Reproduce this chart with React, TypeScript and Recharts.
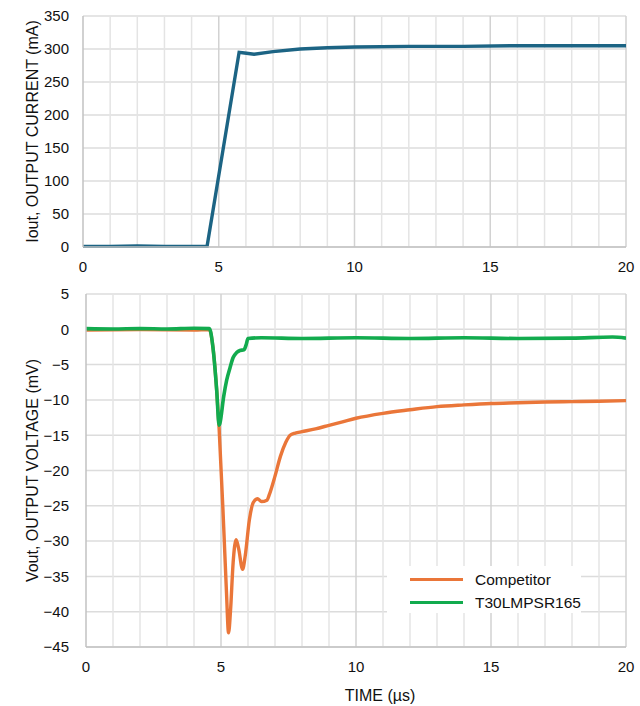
import React from 'react';
import { LineChart, Line, XAxis, YAxis, CartesianGrid, ReferenceLine, Legend } from 'recharts';

// time axis (µs)
const TIME_TICKS = [0, 5, 10, 15, 20];
const MINOR_X = [1, 2, 3, 4, 6, 7, 8, 9, 11, 12, 13, 14, 16, 17, 18, 19];
const MAJOR_X = [5, 10, 15, 20];

// top panel: output current step
const IOUT_TICKS = [0, 50, 100, 150, 200, 250, 300, 350];
const IOUT_T = [0, 1, 2, 3, 4, 4.57, 5.75, 5.95, 6.3, 7, 8, 9, 10, 12, 14, 16, 18, 20];
const IOUT_MA = [1, 1, 1.5, 1, 1, 1, 295, 294, 292, 296, 300, 302, 303, 304, 304, 305, 305, 305];

// bottom panel: output voltage response
const VOUT_TICKS = [5, 0, -5, -10, -15, -20, -25, -30, -35, -40, -45];
const COMP_T = [0, 2, 4, 4.57, 4.7, 4.84, 4.93, 5.1, 5.2, 5.28, 5.35, 5.45, 5.56, 5.65, 5.8, 5.9, 6.05, 6.2, 6.35, 6.5, 6.7, 6.8, 7.0, 7.2, 7.4, 7.56, 7.75, 8.0, 8.5, 9.0, 9.5, 10, 11, 12, 13, 14, 15, 16, 17, 18, 19, 20];
const COMP_MV = [-0.1, -0.05, -0.1, -0.05, -2.5, -8.6, -14, -28, -37, -43, -40, -33, -29.8, -31, -34, -32, -27, -24.5, -24, -24.4, -24.2, -23.3, -20.8, -18, -16, -15, -14.7, -14.5, -14.1, -13.6, -13.1, -12.6, -11.9, -11.4, -10.95, -10.7, -10.5, -10.4, -10.3, -10.25, -10.2, -10.1];
const PSR_T = [0, 1, 2, 3, 4, 4.57, 4.7, 4.84, 4.93, 4.96, 5.1, 5.21, 5.33, 5.45, 5.58, 5.7, 5.85, 5.93, 6.0, 6.5, 8, 10, 12, 14, 16, 18, 19.5, 20];
const PSR_MV = [0.1, 0.05, 0.1, 0.05, 0.15, 0.1, -2.5, -8.6, -13.6, -13.3, -9.5, -7.2, -5.5, -4.0, -3.3, -3.0, -2.9, -2.2, -1.3, -1.2, -1.3, -1.2, -1.3, -1.2, -1.3, -1.25, -1.1, -1.25];

const SERIES_NAMES = ['Competitor', 'T30LMPSR165'];
const COLORS = ['#ea7639', '#12ab4e'];
const BLUE = '#1c6484';

const ioutData = IOUT_T.map((t, i) => ({ t, v: IOUT_MA[i] }));
const compData = COMP_T.map((t, i) => ({ t, v: COMP_MV[i] }));
const psrData = PSR_T.map((t, i) => ({ t, v: PSR_MV[i] }));

const FONT = '"Liberation Sans", Arial, sans-serif';
const tickStyle = { fill: '#111', fontSize: 15, fontFamily: FONT };
const titleStyle = { fill: '#111', fontSize: 16, fontFamily: FONT };
const AXIS_GRAY = '#c2c2c2';
const fmtMinus = (v: number) => String(v).replace('-', '\u2212');

const gridLines = () => [
  ...MINOR_X.map((x) => (
    <ReferenceLine key={`mn-${x}`} x={x} stroke="#e4e4e4" strokeWidth={1.5} zIndex={-50} />
  )),
  ...MAJOR_X.map((x) => (
    <ReferenceLine key={`mj-${x}`} x={x} stroke="#d2d2d2" strokeWidth={1.5} zIndex={-40} />
  )),
];

const LegendBox = ({ payload }: any) => (
  <div style={{ background: '#fff', width: 194, height: 47, boxSizing: 'border-box', paddingLeft: 23, paddingTop: 2, fontFamily: FONT, fontSize: 15.5, color: '#111' }}>
    {(payload || []).map((p: any) => (
      <div key={p.value} style={{ display: 'flex', alignItems: 'center', height: 23 }}>
        <span style={{ display: 'inline-block', width: 53, height: 3, background: p.color, marginRight: 12 }} />
        <span>{p.value}</span>
      </div>
    ))}
  </div>
);

export default function App() {
  return (
    <div style={{ position: 'absolute', left: 0, top: 0, width: 640, height: 706, background: '#fff' }}>
      <div style={{ position: 'absolute', left: 0, top: 0 }}>
        <LineChart width={640} height={280} margin={{ top: 16, right: 14, left: 0, bottom: 0 }}>
          <CartesianGrid vertical={false} stroke="#dcdcdc" strokeWidth={1.5} />
          {gridLines()}
          <XAxis
            type="number"
            dataKey="t"
            domain={[0, 20]}
            ticks={TIME_TICKS}
            height={33}
            tickLine={false}
            tickMargin={8}
            stroke={AXIS_GRAY}
            strokeWidth={1.5}
            tick={tickStyle}
            allowDataOverflow
          />
          <YAxis
            type="number"
            domain={[0, 350]}
            ticks={IOUT_TICKS}
            width={83}
            tickLine={false}
            tickMargin={8}
            stroke={AXIS_GRAY}
            strokeWidth={1.5}
            tick={tickStyle}
            label={{ value: 'Iout, OUTPUT CURRENT (mA)', angle: -90, position: 'insideLeft', offset: 32, style: { ...titleStyle, textAnchor: 'middle' } }}
          />
          <Line data={ioutData} dataKey="v" type="linear" stroke={BLUE} strokeWidth={3.4} dot={false} isAnimationActive={false} />
        </LineChart>
      </div>
      <div style={{ position: 'absolute', left: 0, top: 280 }}>
        <LineChart width={640} height={426} margin={{ top: 14, right: 14, left: 0, bottom: 0 }}>
          <CartesianGrid vertical={false} stroke="#dcdcdc" strokeWidth={1.5} />
          {gridLines()}
          <XAxis
            type="number"
            dataKey="t"
            domain={[0, 20]}
            ticks={TIME_TICKS}
            height={59}
            tickLine={false}
            tickMargin={8}
            stroke={AXIS_GRAY}
            strokeWidth={1.5}
            tick={tickStyle}
            allowDataOverflow
            label={{ value: 'TIME (µs)', position: 'insideBottom', offset: 5, dx: 24, style: titleStyle }}
          />
          <YAxis
            type="number"
            domain={[-45, 5]}
            ticks={VOUT_TICKS}
            width={86}
            tickLine={false}
            tickMargin={11}
            stroke={AXIS_GRAY}
            strokeWidth={1.5}
            tick={tickStyle}
            tickFormatter={fmtMinus}
            label={{ value: 'Vout, OUTPUT VOLTAGE (mV)', angle: -90, position: 'insideLeft', offset: 32, style: { ...titleStyle, textAnchor: 'middle' } }}
          />
          <Legend
            layout="horizontal"
            verticalAlign="middle"
            align="center"
            wrapperStyle={{ left: 387, top: 286, width: 194, height: 47 }}
            content={LegendBox}
          />
          <Line data={compData} dataKey="v" name={SERIES_NAMES[0]} type="monotone" stroke={COLORS[0]} strokeWidth={3.4} dot={false} isAnimationActive={false} />
          <Line data={psrData} dataKey="v" name={SERIES_NAMES[1]} type="monotone" stroke={COLORS[1]} strokeWidth={3.6} dot={false} isAnimationActive={false} />
        </LineChart>
      </div>
    </div>
  );
}
